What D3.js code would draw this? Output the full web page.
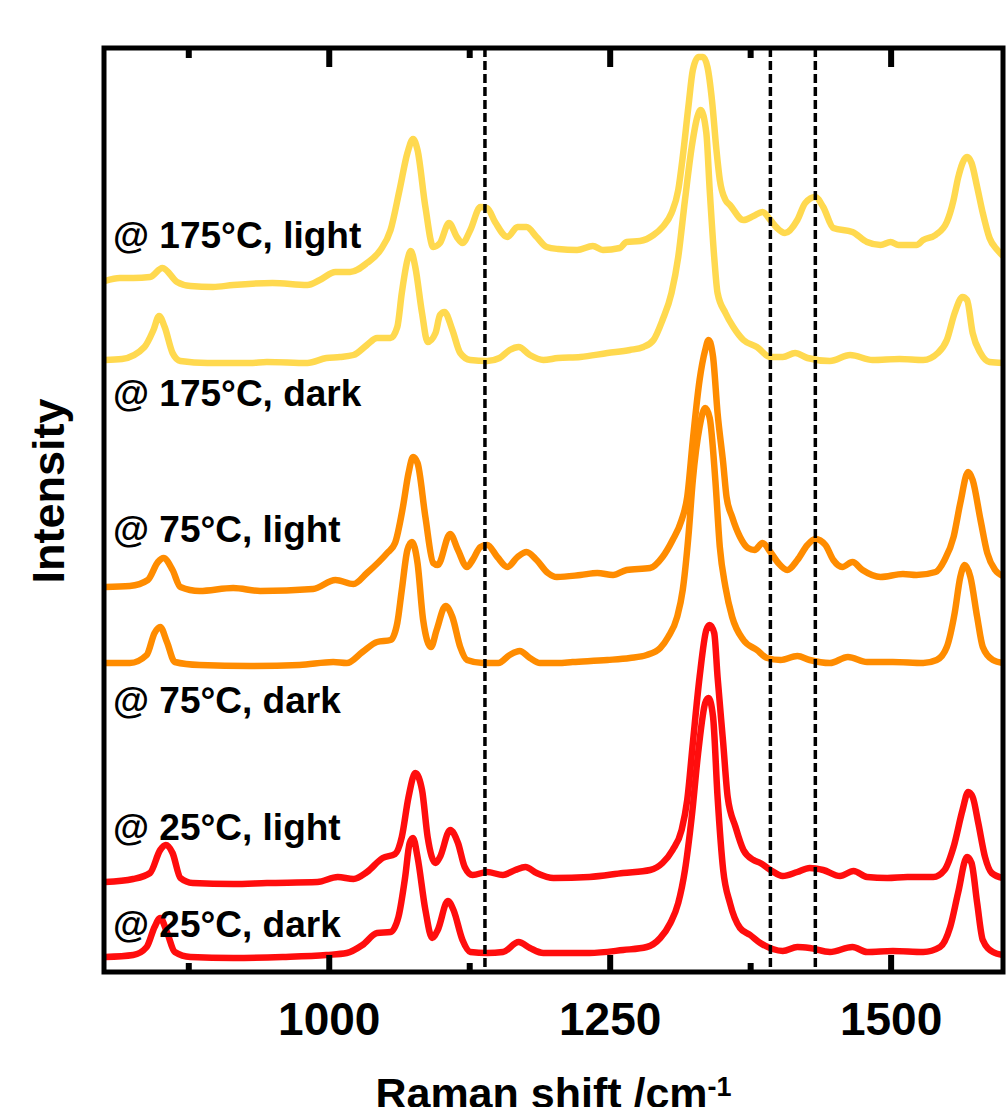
<!DOCTYPE html>
<html>
<head>
<meta charset="utf-8">
<script src="https://cdn.jsdelivr.net/npm/d3@7"></script>
<style>
  html, body { margin: 0; padding: 0; background: #fff; }
  svg { display: block; }
  text { font-family: 'Liberation Sans', Arial, sans-serif; font-weight: bold; fill: #000; }
</style>
</head>
<body>
<svg id="chart" width="1006" height="1107"></svg>
<script>
// stacked Raman spectra: [shift /cm-1, intensity a.u. incl. offset]
const spec175Light = [
  [801, 691], [814, 694], [826, 694], [841, 695], [852, 704], [865, 690], [877, 686],
  [897, 685], [915, 687], [950, 689], [981, 687], [992, 692], [1006, 700], [1019, 700],
  [1034, 709], [1046, 722], [1055, 742], [1063, 782], [1070, 819], [1075, 833], [1079, 822],
  [1086, 765], [1093, 725], [1099, 729], [1107, 749], [1114, 735], [1119, 729], [1126, 742],
  [1135, 765], [1141, 764], [1148, 750], [1159, 735], [1168, 745], [1176, 745], [1185, 735],
  [1194, 725], [1204, 723], [1221, 722], [1235, 726], [1244, 722], [1259, 724], [1265, 730],
  [1277, 731], [1289, 737], [1297, 745], [1305, 759], [1311, 782], [1315, 815], [1320, 865],
  [1324, 902], [1329, 915], [1333, 915], [1337, 905], [1341, 872], [1345, 822], [1348, 792],
  [1353, 772], [1357, 767], [1369, 752], [1378, 756], [1386, 760], [1393, 752], [1399, 744],
  [1406, 739], [1417, 752], [1424, 769], [1433, 775], [1440, 765], [1449, 744], [1466, 740],
  [1479, 730], [1491, 727], [1500, 730], [1507, 727], [1523, 727], [1529, 732], [1540, 737],
  [1550, 750], [1556, 772], [1560, 794], [1568, 815], [1572, 809], [1577, 785], [1582, 759],
  [1588, 734], [1595, 722], [1600, 716]
]
const spec175Dark = [
  [801, 612], [816, 613], [836, 625], [844, 642], [849, 656], [854, 645], [861, 619],
  [868, 611], [892, 609], [930, 609], [945, 610], [981, 609], [998, 614], [1010, 615],
  [1022, 617], [1034, 627], [1043, 634], [1055, 634], [1061, 645], [1065, 679], [1070, 712],
  [1073, 721], [1077, 705], [1083, 659], [1088, 630], [1095, 639], [1099, 657], [1103, 660],
  [1110, 642], [1117, 619], [1126, 612], [1141, 611], [1152, 614], [1161, 622], [1169, 625],
  [1179, 617], [1191, 612], [1204, 614], [1224, 615], [1248, 619], [1268, 622], [1280, 625],
  [1289, 632], [1297, 652], [1305, 679], [1311, 715], [1317, 772], [1323, 825], [1328, 855],
  [1331, 862], [1336, 839], [1339, 782], [1343, 715], [1346, 679], [1353, 659], [1360, 645],
  [1369, 632], [1381, 625], [1393, 615], [1404, 615], [1415, 619], [1426, 614], [1446, 611],
  [1464, 617], [1484, 612], [1508, 613], [1529, 612], [1542, 619], [1550, 632], [1557, 659],
  [1564, 675], [1568, 672], [1573, 639], [1580, 619], [1588, 610], [1600, 609]
]
const spec75Light = [
  [801, 385], [823, 386], [839, 392], [848, 410], [853, 414], [861, 402], [868, 385],
  [885, 381], [915, 384], [939, 381], [986, 383], [1006, 392], [1022, 388], [1034, 399],
  [1052, 419], [1059, 429], [1066, 465], [1071, 499], [1075, 515], [1079, 509], [1086, 455],
  [1093, 409], [1097, 407], [1108, 438], [1115, 422], [1123, 405], [1128, 412], [1135, 425],
  [1141, 427], [1150, 415], [1159, 405], [1168, 415], [1176, 420], [1185, 412], [1195, 399],
  [1203, 395], [1224, 397], [1239, 399], [1253, 397], [1265, 402], [1286, 404], [1297, 415],
  [1306, 432], [1314, 452], [1319, 475], [1324, 532], [1330, 592], [1335, 622], [1338, 632],
  [1342, 615], [1346, 559], [1351, 509], [1354, 475], [1359, 455], [1366, 435], [1373, 424],
  [1379, 422], [1386, 429], [1393, 420], [1400, 409], [1408, 402], [1417, 412], [1426, 427],
  [1433, 433], [1442, 427], [1449, 412], [1457, 405], [1466, 410], [1475, 402], [1491, 395],
  [1511, 398], [1523, 397], [1540, 400], [1548, 412], [1556, 435], [1562, 469], [1569, 500],
  [1573, 492], [1580, 452], [1586, 419], [1593, 402], [1600, 396]
]
const spec75Dark = [
  [801, 309], [823, 309], [838, 317], [845, 339], [850, 345], [856, 330], [863, 310],
  [885, 307], [930, 306], [974, 307], [1004, 310], [1016, 309], [1030, 320], [1043, 330],
  [1055, 332], [1061, 349], [1065, 382], [1070, 422], [1074, 430], [1079, 409], [1084, 352],
  [1091, 325], [1096, 342], [1104, 366], [1110, 355], [1117, 325], [1123, 312], [1137, 309],
  [1151, 309], [1161, 317], [1170, 321], [1179, 314], [1188, 309], [1204, 309], [1217, 310],
  [1248, 312], [1268, 314], [1283, 317], [1295, 324], [1302, 335], [1310, 355], [1315, 382],
  [1320, 435], [1324, 492], [1330, 545], [1335, 564], [1339, 554], [1344, 492], [1348, 425],
  [1353, 385], [1359, 355], [1369, 332], [1381, 322], [1390, 314], [1402, 312], [1417, 316],
  [1428, 312], [1446, 309], [1462, 315], [1479, 310], [1502, 310], [1529, 309], [1541, 312],
  [1550, 325], [1557, 359], [1562, 395], [1566, 407], [1571, 395], [1577, 355], [1582, 325],
  [1591, 312], [1600, 309]
]
const spec25Light = [
  [801, 90], [826, 93], [841, 99], [850, 122], [855, 127], [861, 119], [868, 94],
  [879, 89], [915, 88], [945, 89], [990, 90], [1008, 95], [1022, 93], [1034, 100],
  [1048, 114], [1059, 118], [1065, 135], [1071, 175], [1077, 199], [1083, 182], [1088, 135],
  [1095, 109], [1099, 115], [1108, 142], [1115, 129], [1121, 105], [1128, 97], [1141, 100],
  [1155, 97], [1166, 102], [1175, 105], [1185, 99], [1200, 94], [1232, 95], [1262, 99],
  [1286, 102], [1297, 109], [1306, 122], [1314, 142], [1319, 172], [1324, 229], [1330, 295],
  [1336, 342], [1339, 347], [1343, 339], [1346, 295], [1351, 229], [1355, 175], [1362, 145],
  [1369, 122], [1378, 112], [1384, 109], [1393, 102], [1404, 96], [1417, 100], [1428, 104],
  [1440, 102], [1455, 96], [1467, 101], [1479, 95], [1497, 94], [1515, 95], [1538, 95],
  [1548, 102], [1556, 125], [1564, 162], [1569, 180], [1573, 175], [1578, 149], [1584, 115],
  [1590, 99], [1600, 94]
]
const spec25Dark = [
  [801, 15], [826, 17], [838, 25], [845, 45], [850, 54], [856, 40], [863, 20],
  [877, 15], [915, 14], [959, 15], [998, 17], [1016, 19], [1030, 27], [1043, 39],
  [1055, 40], [1062, 55], [1068, 95], [1072, 129], [1075, 134], [1079, 115], [1086, 62],
  [1092, 34], [1097, 42], [1106, 71], [1111, 62], [1119, 32], [1126, 20], [1141, 19],
  [1155, 20], [1169, 30], [1179, 24], [1191, 19], [1204, 19], [1232, 19], [1262, 22],
  [1283, 25], [1295, 34], [1304, 49], [1311, 69], [1317, 102], [1323, 155], [1329, 222],
  [1335, 269], [1338, 274], [1342, 255], [1346, 175], [1351, 102], [1357, 69], [1366, 44],
  [1375, 37], [1384, 29], [1395, 23], [1404, 21], [1417, 25], [1428, 24], [1446, 20],
  [1466, 25], [1479, 20], [1502, 21], [1529, 20], [1544, 25], [1553, 45], [1560, 79],
  [1568, 115], [1572, 109], [1577, 69], [1582, 32], [1591, 20], [1600, 17]
]

const seriesNames = ['@ 175°C, light', '@ 175°C, dark', '@ 75°C, light', '@ 75°C, dark', '@ 25°C, light', '@ 25°C, dark']
const seriesData = [spec175Light, spec175Dark, spec75Light, spec75Dark, spec25Light, spec25Dark]
const markerShifts = [1139, 1393, 1433]
const majorTicks = [1000, 1250, 1500]
const minorTicks = [875, 1125, 1375]

// styling / layout
const colors = ['#ffd94f', '#ffd94f', '#ff8c00', '#ff8c00', '#ff0d0d', '#ff0d0d']
const labelBaselines = [248, 406, 542, 713, 840, 937]
const plotLeft = 104
const plotRight = 1003
const plotTop = 48
const plotBottom = 972

const svg = d3.select('#chart')
svg.append('rect').attr('width', 1006).attr('height', 1107).attr('fill', '#fff')

const x = d3.scaleLinear().domain([800, 1600]).range([plotLeft, plotRight])
const y = d3.scaleLinear().domain([0, 925]).range([plotBottom, plotTop - 1])

svg.append('clipPath').attr('id', 'plotclip')
  .append('rect')
  .attr('x', plotLeft).attr('y', plotTop)
  .attr('width', plotRight - plotLeft).attr('height', plotBottom - plotTop)

const line = d3.line()
  .x(d => x(d[0]))
  .y(d => y(d[1]))
  .curve(d3.curveMonotoneX)

// traces
svg.append('g')
  .attr('clip-path', 'url(#plotclip)')
  .selectAll('path')
  .data(seriesData)
  .enter().append('path')
  .attr('d', d => line(d))
  .attr('fill', 'none')
  .attr('stroke', (d, i) => colors[i])
  .attr('stroke-width', 6.5)
  .attr('stroke-linejoin', 'round')
  .attr('stroke-linecap', 'round')

// dashed marker lines
svg.append('g')
  .selectAll('line')
  .data(markerShifts)
  .enter().append('line')
  .attr('x1', d => x(d)).attr('x2', d => x(d))
  .attr('y1', plotTop).attr('y2', plotBottom)
  .attr('stroke', '#000')
  .attr('stroke-width', 3.5)
  .attr('stroke-dasharray', '9,4')

// series labels
svg.append('g')
  .selectAll('text')
  .data(seriesNames)
  .enter().append('text')
  .attr('x', 113)
  .attr('y', (d, i) => labelBaselines[i])
  .attr('font-size', 37)
  .text(d => d)

// axes, ticks pointing inwards
const xBottom = d3.axisBottom(x).tickValues(majorTicks).tickSize(-17).tickPadding(30).tickFormat(d3.format('d'))
const gB = svg.append('g').attr('transform', `translate(0,${plotBottom})`).call(xBottom)
gB.select('.domain').remove()
gB.selectAll('line').attr('stroke-width', 6)
gB.selectAll('text').attr('font-size', 46).style('font-family', "'Liberation Sans', Arial, sans-serif").style('font-weight', 'bold')

const gBm = svg.append('g').attr('transform', `translate(0,${plotBottom})`)
  .call(d3.axisBottom(x).tickValues(minorTicks).tickSize(-9).tickFormat(''))
gBm.select('.domain').remove()
gBm.selectAll('line').attr('stroke-width', 6)

const gT = svg.append('g').attr('transform', `translate(0,${plotTop})`)
  .call(d3.axisTop(x).tickValues(majorTicks).tickSize(-19).tickFormat(''))
gT.select('.domain').remove()
gT.selectAll('line').attr('stroke-width', 6)

const gTm = svg.append('g').attr('transform', `translate(0,${plotTop})`)
  .call(d3.axisTop(x).tickValues(minorTicks).tickSize(-10).tickFormat(''))
gTm.select('.domain').remove()
gTm.selectAll('line').attr('stroke-width', 6)

// frame
svg.append('rect')
  .attr('x', plotLeft).attr('y', plotTop)
  .attr('width', plotRight - plotLeft).attr('height', plotBottom - plotTop)
  .attr('fill', 'none')
  .attr('stroke', '#000')
  .attr('stroke-width', 5)

// axis titles
const xt = svg.append('text')
  .attr('x', (plotLeft + plotRight) / 2)
  .attr('y', 1108)
  .attr('text-anchor', 'middle')
  .attr('font-size', 43)
xt.append('tspan').text('Raman shift /cm')
xt.append('tspan').attr('font-size', 27).attr('dy', -12).text('-1')

svg.append('text')
  .attr('transform', 'translate(64,491) rotate(-90)')
  .attr('text-anchor', 'middle')
  .attr('font-size', 45)
  .text('Intensity')
</script>
</body>
</html>
